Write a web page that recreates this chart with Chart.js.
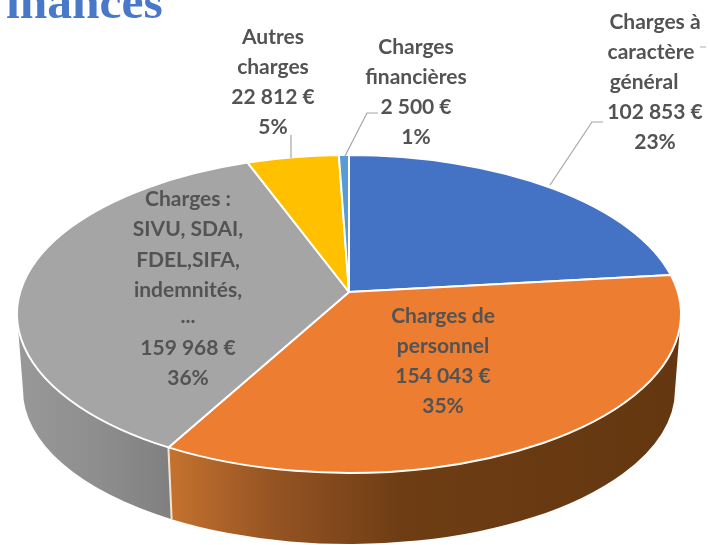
<!DOCTYPE html>
<html><head><meta charset="utf-8">
<style>html,body{margin:0;padding:0;background:#fff;overflow:hidden}canvas{display:block;filter:blur(0.5px)}</style>
<script src="https://cdn.jsdelivr.net/npm/chart.js@4"></script>
</head><body><canvas id="c" width="710" height="545"></canvas>
<script>
const categories=["Charges à caractère général","Charges de personnel","Charges : SIVU, SDAI, FDEL,SIFA, indemnités, ...","Autres charges","Charges financières"];
const values=[102853,154043,159968,22812,2500];
const amountLabels=["102 853 €","154 043 €","159 968 €","22 812 €","2 500 €"];
const percentLabels=["23%","35%","36%","5%","1%"];
const nameLines=[["Charges à","caractère","général"],["Charges de","personnel"],["Charges :","SIVU, SDAI,","FDEL,SIFA,","indemnités,","..."],["Autres","charges"],["Charges","financières"]];
const sliceColors=["#4472c4","#ed7d31","#a5a5a5","#ffc000","#5b9bd5"];
const titleText="inances";

// layout of the tilted pie (not data)
const apex={x:349,y:292}, topE={cx:349,cy:314,rx:332,ry:159}, botE={cx:349,cy:390,rx:326,ry:154}, tilt=0.48;
const labelPos=[{x:655,y:22,dx:[0,-4,-11,0,0]},{x:443,y:316},{x:188,y:199,steps:[30,31,30,26,32,30]},{x:273,y:37},{x:416,y:47}];
const leaders=[[[603,122],[592,122],[550,185]],[],[],[[291,135],[291,158]],[[378,113],[367,113],[345,156]]];

function rim(a){
  const dx=Math.cos(a),dy=tilt*Math.sin(a),ox=(apex.x-topE.cx)/topE.rx,oy=(apex.y-topE.cy)/topE.ry;
  const ux=dx/topE.rx,uy=dy/topE.ry,A=ux*ux+uy*uy,B=2*(ox*ux+oy*uy),C=ox*ox+oy*oy-1;
  const t=(-B+Math.sqrt(B*B-4*A*C))/(2*A);
  const x=apex.x+t*dx,y=apex.y+t*dy;
  return {x,y,p:Math.atan2((y-topE.cy)/topE.ry,(x-topE.cx)/topE.rx)};
}
function sidePath(ctx,p0,p1){
  ctx.beginPath();
  ctx.ellipse(topE.cx,topE.cy,topE.rx,topE.ry,0,p0,p1,false);
  ctx.ellipse(botE.cx,botE.cy,botE.rx,botE.ry,0,p1,p0,true);
  ctx.closePath();
}
const pie3d={id:'pie3d',
  beforeDatasetDraw(){return false;},
  afterDatasetsDraw(chart){
    const ctx=chart.ctx, arcs=chart.getDatasetMeta(0).data;
    ctx.save();
    const edge=rim(arcs[1].endAngle).p; // orange / grey boundary
    let g=ctx.createLinearGradient(170,0,680,0);
    g.addColorStop(0,'#c4722e');g.addColorStop(0.2,'#965423');g.addColorStop(0.45,'#6e3d14');g.addColorStop(1,'#643710');
    sidePath(ctx,0,edge);ctx.fillStyle=g;ctx.fill();
    g=ctx.createLinearGradient(20,0,170,0);
    g.addColorStop(0,'#989898');g.addColorStop(0.5,'#8e8e8e');g.addColorStop(1,'#808080');
    sidePath(ctx,edge,Math.PI);ctx.fillStyle=g;ctx.fill();
    const a=Math.cos(edge)*topE.rx+topE.cx,b=Math.sin(edge)*topE.ry+topE.cy;
    const c=Math.cos(edge)*botE.rx+botE.cx,d=Math.sin(edge)*botE.ry+botE.cy;
    ctx.beginPath();ctx.moveTo(a,b);ctx.lineTo(c,d);ctx.strokeStyle='#f3e3d3';ctx.lineWidth=2;ctx.stroke();
    arcs.forEach(arc=>{
      const s=rim(arc.startAngle),e=rim(arc.endAngle);
      ctx.beginPath();ctx.moveTo(apex.x,apex.y);ctx.lineTo(s.x,s.y);
      ctx.ellipse(topE.cx,topE.cy,topE.rx,topE.ry,0,s.p,e.p,false);
      ctx.closePath();
      ctx.fillStyle=arc.options.backgroundColor;ctx.fill();
      ctx.strokeStyle=arc.options.borderColor;ctx.lineWidth=arc.options.borderWidth;ctx.lineJoin='round';ctx.stroke();
    });
    ctx.strokeStyle='#a6a6a6';ctx.lineWidth=1.2;
    leaders.forEach(l=>{ if(!l.length)return; ctx.beginPath();l.forEach((p,i)=>i?ctx.lineTo(p[0],p[1]):ctx.moveTo(p[0],p[1]));ctx.stroke();});
    ctx.beginPath();ctx.moveTo(700,47);ctx.lineTo(706,47);ctx.strokeStyle='#bbb';ctx.stroke();
    ctx.textAlign='center';ctx.textBaseline='middle';ctx.fillStyle='#535353';
    ctx.font='bold 21px Lato';
    categories.forEach((n,i)=>{
      const lines=[...nameLines[i],amountLabels[i],percentLabels[i]],pos=labelPos[i];
      let y=pos.y;
      lines.forEach((t,j)=>{
        ctx.fillText(t,pos.x+(pos.dx?pos.dx[j]:0),y);
        y+=pos.steps?pos.steps[j]:30;
      });
    });
    ctx.textAlign='left';ctx.textBaseline='alphabetic';
    ctx.font='bold 49.5px "Liberation Serif"';ctx.fillStyle='#4a78c8';
    ctx.fillText(titleText,6,18);
    ctx.restore();
  }};
new Chart(document.getElementById('c'),{type:'pie',
  data:{labels:categories,datasets:[{data:values,backgroundColor:sliceColors,borderColor:'#fff',borderWidth:2}]},
  options:{responsive:false,animation:false,plugins:{legend:{display:false},tooltip:{enabled:false}}},
  plugins:[pie3d]});
</script></body></html>
